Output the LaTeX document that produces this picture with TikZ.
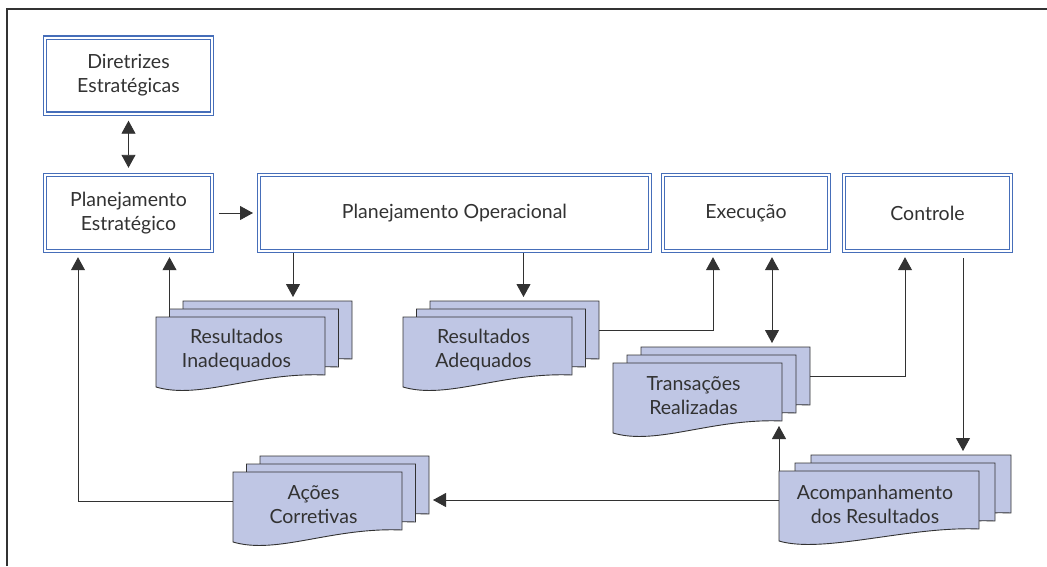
\documentclass[tikz,border=0pt]{standalone}
\usepackage{fontspec}
\setmainfont{Lato}
\usetikzlibrary{arrows.meta,calc}
\definecolor{boxblue}{RGB}{70,110,185}
\definecolor{sheetfill}{RGB}{191,198,228}
\definecolor{inkgray}{RGB}{50,50,50}
\tikzset{
  dbox/.style={draw=boxblue, double=white, double distance=2pt, line width=1.2pt,
    outer sep=2.2pt, inner sep=0pt, align=center, text=inkgray,
    font=\fontsize{19.5}{24}\selectfont},
  sheet/.style={inner sep=0pt, outer sep=0pt, minimum height=58pt, anchor=north west},
  sheetline/.style={draw=inkgray, fill=sheetfill, line width=0.9pt},
  sheettext/.style={align=center, text=inkgray, font=\fontsize{19.5}{24}\selectfont},
  link/.style={draw=inkgray, line width=0.9pt},
  arr/.style={-{Triangle[length=13pt,width=14pt]}},
  darr/.style={{Triangle[length=13pt,width=14pt]}-{Triangle[length=13pt,width=14pt]}}
}
\newcommand{\docsheet}[3]{%
  \node[sheet, minimum width=#3] (#1) at (#2) {};
  \path[sheetline] (#1.north west) -- (#1.north east) -- (#1.south east)
    .. controls ($(#1.south east)+(-70,-3)$) and ($(#1.south west)+(44,25)$) .. ($(#1.south west)+(0,12)$) -- cycle;
}
\begin{document}
\begin{tikzpicture}[x=1pt,y=-1pt]
\useasboundingbox (0,0) rectangle (1047,566);
\draw[inkgray, line width=1.2pt] (7,566) -- (7,9) -- (1047,9);

\foreach \n/\x/\y/\w/\t in {de/128.5/75.5/171/{Diretrizes\\Estratégicas}, pe/128.5/213/171/{Planejamento\\Estratégico}, po/454.5/213/395/{Planejamento Operacional}, ex/746/213/170/Execução, co/927.5/213/171/Controle}
  \node[dbox, minimum width=\w-4.4, minimum height=76] (\n) at (\x,\y) {\t};

\foreach \n/\x/\y/\w/\d/\t in {ri/156/317/169/13.5/{Resultados\\Inadequados}, ra/403/317/169/13.5/{Resultados\\Adequados}, tr/613/363/169/14/{Transações\\Realizadas}, ac/233/472/169/13.5/{Ações\\Corretivas}, ar/779/471/200/16/{Acompanhamento\\dos Resultados}}{
  \docsheet{\n3}{\x+2*\d,\y-16}{\w}
  \docsheet{\n2}{\x+\d,\y-8}{\w}
  \docsheet{\n1}{\x,\y}{\w}
  \node[sheettext] (\n) at ($(\n1.center)+(-4,4)$) {\t};
}

\coordinate (poRI) at ([xshift=25.5]ri3.north);
\coordinate (poRA) at ([xshift=9]ra3.north);
\coordinate (exRA) at ([xshift=-33]ex.south);
\coordinate (exTR) at ([xshift=26]ex.south);
\coordinate (coTR) at ([xshift=-22.5]co.south);
\coordinate (coAR) at ([xshift=35.5]co.south);
\coordinate (peAC) at ([xshift=-50.5]pe.south);

\draw[link,darr,shorten <=5pt,shorten >=5pt] (de) -- (pe);
\draw[link,arr,shorten <=5pt,shorten >=4pt] (pe) -- (po);
\draw[link,arr,shorten >=4pt] (poRI |- po.south) -- (poRI);
\draw[link,arr,shorten >=4pt] (poRA |- po.south) -- (poRA);
\draw[link,arr,shorten >=4pt] (ra3.east) -| (exRA);
\draw[link,darr,shorten <=4pt,shorten >=4pt] (exTR) -- (exTR |- tr3.north);
\draw[link,arr,shorten >=4pt] (tr3.east) -| (coTR);
\draw[link,arr,shorten <=5pt,shorten >=4pt] (coAR) -- (coAR |- ar3.north);
\draw[link,arr,shorten >=5pt] (ar1.north west) -- (ar1.north west |- tr1.south);
\draw[link,arr,shorten >=4pt] (ar1.west) -- (ar1.west -| ac3.east);
\draw[link,arr,shorten >=4pt] (ac1.west) -| (peAC);
\draw[link,arr,shorten >=4pt] (ri2.north west) -- (ri2.north west |- pe.south);

\end{tikzpicture}
\end{document}
